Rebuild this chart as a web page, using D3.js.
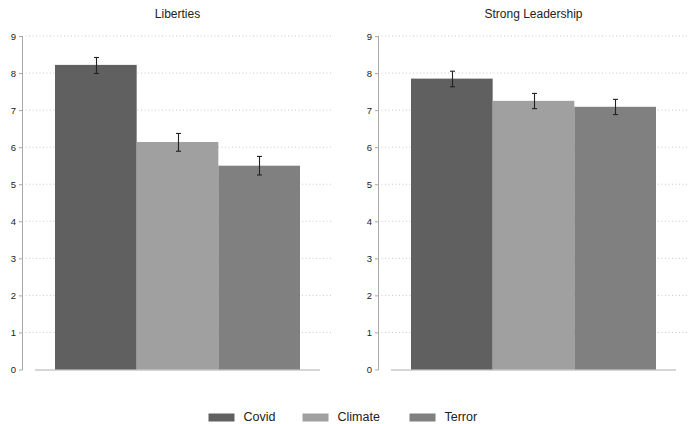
<!DOCTYPE html>
<html><head><meta charset="utf-8">
<script src="https://cdn.jsdelivr.net/npm/d3@7"></script>
<style>body{margin:0;background:#fff}svg{display:block;font-family:"Liberation Sans",Arial,sans-serif}</style>
</head><body><svg id="c" width="688" height="424"></svg>
<script>
const panels = ["Liberties", "Strong Leadership"];
const categories = ["Covid", "Climate", "Terror"];
const colors = ["#606060", "#a0a0a0", "#808080"];
const libertiesMean = [8.22, 6.14, 5.50];
const libertiesLow = [7.99, 5.89, 5.25];
const libertiesHigh = [8.42, 6.37, 5.75];
const leadershipMean = [7.85, 7.25, 7.09];
const leadershipLow = [7.63, 7.04, 6.88];
const leadershipHigh = [8.05, 7.45, 7.29];
const yTicks = [0, 1, 2, 3, 4, 5, 6, 7, 8, 9];

const panelData = [
  {title: panels[0], mean: libertiesMean, lo: libertiesLow, hi: libertiesHigh},
  {title: panels[1], mean: leadershipMean, lo: leadershipLow, hi: leadershipHigh}
];

const svg = d3.select("#c");
const y = d3.scaleLinear().domain([0, 9]).range([369.5, 36]);
const axisX = [22.5, 378.5];
const plotW = 310;

panelData.forEach((p, i) => {
  const ox = axisX[i];
  const g = svg.append("g");
  g.selectAll("line.grid").data(yTicks.slice(1)).join("line")
    .attr("x1", ox + 3).attr("x2", Math.min(ox + plotW, 687))
    .attr("y1", d => y(d)).attr("y2", d => y(d))
    .attr("stroke", "#c8c8c8").attr("stroke-width", 1).attr("stroke-dasharray", "1,2.5");
  const ax = g.append("g").attr("transform", `translate(${ox},0)`)
    .call(d3.axisLeft(y).tickValues(yTicks).tickSize(3.5).tickPadding(3).tickFormat(d3.format("d")));
  ax.select(".domain").attr("stroke", "#a8a8a8").attr("d", `M-0,${y(9)}V${y(0)+0.5}`);
  ax.selectAll(".tick line").attr("stroke", "#a8a8a8");
  ax.selectAll("text").attr("font-size", 9.5).attr("fill", "#222").attr("font-family", "Liberation Sans, Arial, sans-serif");
  const x = d3.scaleBand().domain(categories).range([ox + 32.5, ox + 277.5]).padding(0);
  g.append("line").attr("x1", ox + 12.5).attr("x2", ox + 297.5)
    .attr("y1", y(0) + 0.5).attr("y2", y(0) + 0.5)
    .attr("stroke", "#c8c8c8").attr("stroke-width", 1.5);
  g.selectAll("rect.bar").data(categories).join("rect")
    .attr("x", d => x(d)).attr("width", x.bandwidth())
    .attr("y", (d, j) => y(p.mean[j])).attr("height", (d, j) => y(0) - y(p.mean[j]))
    .attr("fill", (d, j) => colors[j]);
  categories.forEach((c, j) => {
    const cx = Math.round(x(c) + x.bandwidth() / 2) + 0.5;
    const eg = g.append("g").attr("stroke", "#222").attr("stroke-width", 1.1);
    eg.append("line").attr("x1", cx).attr("x2", cx).attr("y1", y(p.hi[j])).attr("y2", y(p.lo[j]));
    eg.append("line").attr("x1", cx - 2.5).attr("x2", cx + 2.5).attr("y1", y(p.hi[j])).attr("y2", y(p.hi[j]));
    eg.append("line").attr("x1", cx - 2.5).attr("x2", cx + 2.5).attr("y1", y(p.lo[j])).attr("y2", y(p.lo[j]));
  });
  g.append("text").attr("x", ox + 155).attr("y", 18).attr("text-anchor", "middle")
    .attr("font-size", 12).attr("fill", "#222").text(p.title);
});

const legX = [208.5, 302.5, 409.5];
const leg = svg.append("g");
categories.forEach((c, j) => {
  leg.append("rect").attr("x", legX[j]).attr("y", 413.5).attr("width", 26).attr("height", 8).attr("fill", colors[j]);
  leg.append("text").attr("x", legX[j] + 35).attr("y", 421).attr("font-size", 12.5).attr("fill", "#222").text(c);
});
</script></body></html>
